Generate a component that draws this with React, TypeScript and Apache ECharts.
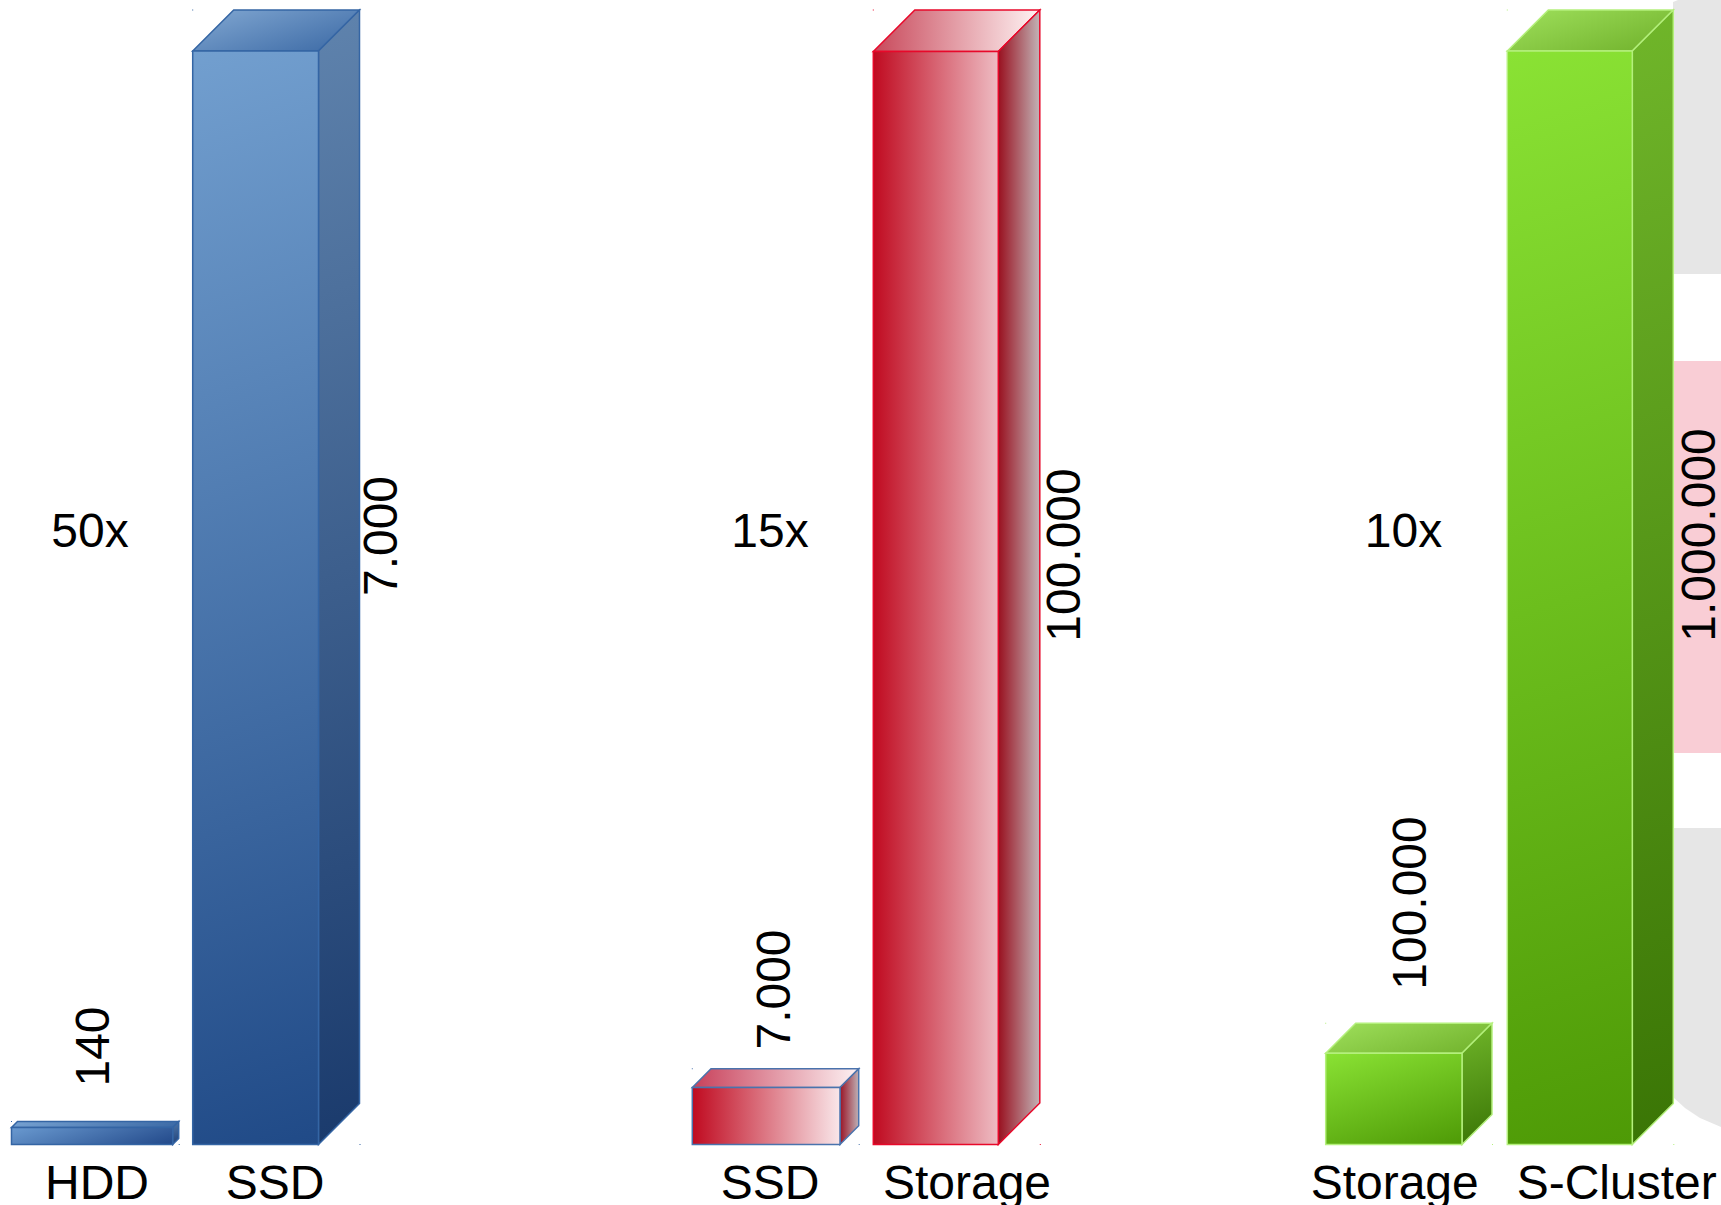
import React, { useEffect, useRef } from "react";
import * as echarts from "echarts";

// ---- data ----
const panel1Categories = ["HDD", "SSD"];
const panel2Categories = ["SSD", "Storage"];
const panel3Categories = ["Storage", "S-Cluster"];

// numbers printed next to the bars
const panel1Values = [140, 7000];
const panel2Values = [7000, 100000];
const panel3Values = [100000, 1000000];

// drawn height of each box in percent of the tallest box of its panel
const panel1Heights = [2.03, 100];
const panel2Heights = [6.67, 100];
const panel3Heights = [10.68, 100];

const factors = ["50x", "15x", "10x"];

// ---- layout and style ----
const FONT = '"Liberation Sans", Arial, sans-serif';
const FS = 48;
const GRID_TOP = 10;
const GRID_H = 1134.5;
const TILT = (18 * Math.PI) / 180;

type Grad = [string, string];
type Skin = { front: Grad; top: Grad; side: Grad; stroke: string; dir: "diag" | "horiz" };

const blue: Skin = { front: ["#729fcf", "#204a87"], top: ["#82a8d2", "#3a68a4"], side: ["#5f83ad", "#1a3a6c"], stroke: "#3465a4", dir: "diag" };
const blueSmall: Skin = { front: ["#6a9ad0", "#22498a"], top: ["#78a3d2", "#3a68a4"], side: ["#4f78aa", "#1f3f76"], stroke: "#3465a4", dir: "diag" };
const redTall: Skin = { front: ["#c00a20", "#eebcc3"], top: ["#c8485a", "#fff4f4"], side: ["#99101f", "#c2b4b7"], stroke: "#e8082a", dir: "horiz" };
const redSmall: Skin = { front: ["#c00a20", "#f9e6e9"], top: ["#c8405a", "#fdf2f3"], side: ["#9a1426", "#bfb2b6"], stroke: "#4a73ad", dir: "horiz" };
const greenTall: Skin = { front: ["#8ae234", "#4e9a06"], top: ["#9fe05c", "#6fb02a"], side: ["#70b62a", "#3a7505"], stroke: "#b4f07c", dir: "diag" };

type Panel = {
  categories: string[]; heights: number[]; values: number[];
  gridLeft: number; band: number;
  bars: { left: number; right: number; depth: number; skin: Skin; lx: number; ly: number }[];
};

const panels: Panel[] = [
  {
    categories: panel1Categories, heights: panel1Heights, values: panel1Values, gridLeft: 8, band: 178,
    bars: [
      { left: 11.5, right: 172.7, depth: 6, skin: blueSmall, lx: 92.5, ly: 1046.5 },
      { left: 192.7, right: 318.5, depth: 41, skin: blue, lx: 380, ly: 536 },
    ],
  },
  {
    categories: panel2Categories, heights: panel2Heights, values: panel2Values, gridLeft: 671.5, band: 197,
    bars: [
      { left: 692.3, right: 840, depth: 18.7, skin: redSmall, lx: 773.5, ly: 989.5 },
      { left: 873.3, right: 998.3, depth: 41.5, skin: redTall, lx: 1063.5, ly: 555 },
    ],
  },
  {
    categories: panel3Categories, heights: panel3Heights, values: panel3Values, gridLeft: 1283.7, band: 222,
    bars: [
      { left: 1325.7, right: 1462, depth: 30, skin: greenTall, lx: 1409, ly: 903 },
      { left: 1507.3, right: 1632.3, depth: 41, skin: greenTall, lx: 1698, ly: 535 },
    ],
  },
];

const factorX = [90, 770, 1403.5];

const fmt = (v: number) => String(v).replace(/\B(?=(\d{3})+(?!\d))/g, ".");

// gradient across a box: tilted linear in page space, or plain left-to-right
const grad = (g: Grad, dir: "diag" | "horiz", x: number, y: number, w: number, h: number) => {
  const sx = dir === "diag" ? Math.sin(TILT) : 1;
  const sy = dir === "diag" ? Math.cos(TILT) : 0;
  const len = w * sx + h * sy;
  return {
    type: "linear", global: true, x, y, x2: x + len * sx, y2: y + len * sy,
    colorStops: [{ offset: 0, color: g[0] }, { offset: 1, color: g[1] }],
  };
};

function makeRender(p: Panel) {
  return (_params: any, api: any) => {
    const cat = api.value(0);
    const bar = p.bars[cat];
    const yBack = api.coord([cat, api.value(1)])[1];
    const yBase = api.coord([cat, 0])[1];
    const d = bar.depth;
    const { left: l, right: r, skin } = bar;
    const yFront = yBack + d;
    const lineStyle = { stroke: skin.stroke, lineWidth: 1.5, lineJoin: "miter" };
    return {
      type: "group",
      children: [
        { type: "polygon", shape: { points: [[l, yFront], [l + d, yBack], [r + d, yBack], [r, yFront]] }, style: { fill: grad(skin.top, skin.dir, l, yBack, r + d - l, d), ...lineStyle } },
        { type: "polygon", shape: { points: [[r, yFront], [r + d, yBack], [r + d, yBase - d], [r, yBase]] }, style: { fill: grad(skin.side, skin.dir, r, yBack, d, yBase - yBack), ...lineStyle } },
        { type: "rect", shape: { x: l, y: yFront, width: r - l, height: yBase - yFront }, style: { fill: grad(skin.front, skin.dir, l, yFront, r - l, yBase - yFront), ...lineStyle } },
        { type: "rect", shape: { x: l - 0.5, y: yBack - 0.5, width: 1, height: 1 }, style: { fill: skin.stroke } },
        { type: "rect", shape: { x: r + d, y: yBase - 0.5, width: 1, height: 1 }, style: { fill: skin.stroke } },
        {
          type: "text", x: bar.lx, y: bar.ly, rotation: Math.PI / 2,
          style: { x: 0, y: 0, text: fmt(p.values[cat]), font: `${FS}px ${FONT}`, fill: "#000", align: "center", verticalAlign: "middle" },
        },
      ],
    };
  };
}

export default function App() {
  const ref = useRef<HTMLDivElement>(null);
  useEffect(() => {
    document.body.style.margin = "0";
    document.body.style.background = "#fff";
    const chart = echarts.init(ref.current!, undefined, { renderer: "svg" });
    chart.setOption({
      animation: false,
      backgroundColor: "#fff",
      grid: panels.map((p) => ({ left: p.gridLeft, top: GRID_TOP, width: p.band * 2, height: GRID_H, containLabel: false, outerBoundsMode: "none" })),
      xAxis: panels.map((p, i) => ({
        type: "category", gridIndex: i, data: p.categories,
        axisLine: { show: false }, axisTick: { show: false }, splitLine: { show: false },
        axisLabel: { interval: 0, hideOverlap: false, color: "#000", fontSize: FS, fontFamily: FONT, margin: 14 },
      })),
      yAxis: panels.map((_, i) => ({ type: "value", gridIndex: i, min: 0, max: 100, show: false })),
      series: panels.map((p, i) => ({
        type: "custom", xAxisIndex: i, yAxisIndex: i, z: 10, clip: false,
        encode: { x: 0, y: 1 },
        data: p.heights.map((h, k) => [k, h]),
        renderItem: makeRender(p),
      })),
      graphic: [
        { type: "polygon", z: -1, shape: { points: [[1673, 2], [1678, 0], [1721, 0], [1721, 274], [1673, 274]] }, style: { fill: "#e6e6e6" } },
        { type: "rect", z: -1, shape: { x: 1673, y: 361, width: 48, height: 392 }, style: { fill: "#f9cdd5" } },
        { type: "polygon", z: -1, shape: { points: [[1673, 828], [1721, 828], [1721, 1127], [1700, 1118], [1685, 1108], [1673, 1097]] }, style: { fill: "#e6e6e6" } },
        ...factors.map((t, i) => ({
          type: "text", z: 5, x: factorX[i], y: 530,
          style: { x: 0, y: 0, text: t, font: `${FS}px ${FONT}`, fill: "#000", align: "center", verticalAlign: "middle" },
        })),
      ],
    });
    return () => chart.dispose();
  }, []);
  return <div ref={ref} style={{ width: 1721, height: 1205 }} />;
}
